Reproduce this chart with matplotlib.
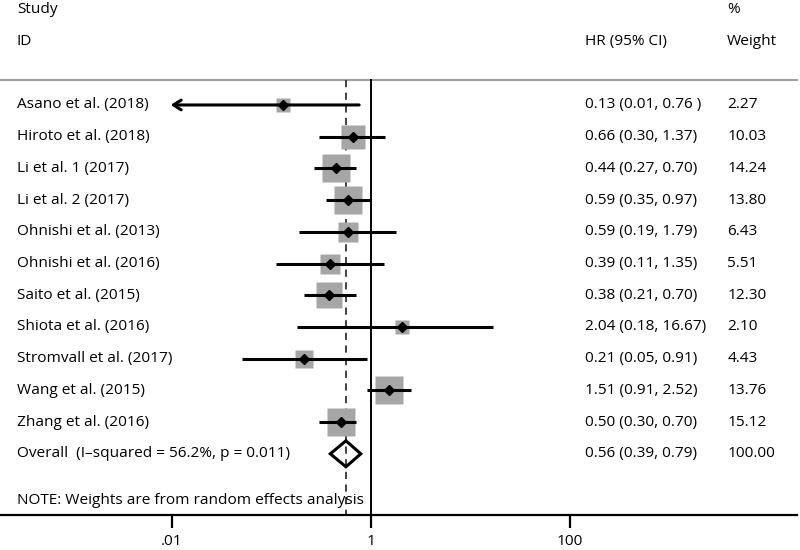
import numpy as np
import matplotlib.pyplot as plt
from matplotlib.transforms import blended_transform_factory
from matplotlib.ticker import NullLocator

studies = ["Asano et al. (2018)", "Hiroto et al. (2018)", "Li et al. 1 (2017)", "Li et al. 2 (2017)",
           "Ohnishi et al. (2013)", "Ohnishi et al. (2016)", "Saito et al. (2015)", "Shiota et al. (2016)",
           "Stromvall et al. (2017)", "Wang et al. (2015)", "Zhang et al. (2016)"]
hr = [0.13, 0.66, 0.44, 0.59, 0.59, 0.39, 0.38, 2.04, 0.21, 1.51, 0.50]
lo = [0.01, 0.30, 0.27, 0.35, 0.19, 0.11, 0.21, 0.18, 0.05, 0.91, 0.30]
hi = [0.76, 1.37, 0.70, 0.97, 1.79, 1.35, 0.70, 16.67, 0.91, 2.52, 0.70]
weight = [2.27, 10.03, 14.24, 13.80, 6.43, 5.51, 12.30, 2.10, 4.43, 13.76, 15.12]
hr_labels = ["0.13 (0.01, 0.76 )", "0.66 (0.30, 1.37)", "0.44 (0.27, 0.70)", "0.59 (0.35, 0.97)",
             "0.59 (0.19, 1.79)", "0.39 (0.11, 1.35)", "0.38 (0.21, 0.70)", "2.04 (0.18, 16.67)",
             "0.21 (0.05, 0.91)", "1.51 (0.91, 2.52)", "0.50 (0.30, 0.70)"]
overall = [0.56, 0.39, 0.79]
overall_label = "Overall  (I\u2013squared = 56.2%, p = 0.011)"
overall_text = "0.56 (0.39, 0.79)"
overall_weight = 100.00
xticks = [0.01, 1, 100]
xtick_labels = [".01", "1", "100"]

plt.rcParams['font.family'] = ['Open Sans', 'DejaVu Sans']
FS = 11.1

fig = plt.figure(figsize=(8, 5.5), dpi=100)
ax = fig.add_axes([0, 35 / 550, 1, 515 / 550])
ax.set_xscale('log')
x0, x1 = 10 ** -3.729, 10 ** 4.312
xend = 10 ** ((797 - 371) / 99.5)
ax.set_xlim(x0, x1)
ybot = 13.93
ax.set_ylim(ybot, -2.31)

for s in ['top', 'left', 'right']:
    ax.spines[s].set_visible(False)
ax.spines['bottom'].set_linewidth(1.6)
ax.spines['bottom'].set_bounds(x0, xend)
ax.set_yticks([])
ax.set_xticks(xticks)
ax.set_xticklabels(xtick_labels)
ax.xaxis.set_minor_locator(NullLocator())
ax.tick_params(axis='x', length=9, width=1.6, labelsize=FS, pad=5)

tr = blended_transform_factory(ax.transAxes, ax.transData)

# header
ax.text(0.021, -2.0, "Study", transform=tr, va='center', fontsize=FS)
ax.text(0.021, -0.99, "ID", transform=tr, va='center', fontsize=FS)
ax.text(0.731, -0.99, "HR (95% CI)", transform=tr, va='center', fontsize=FS)
ax.text(0.909, -2.0, "%", transform=tr, va='center', fontsize=FS)
ax.text(0.909, -0.99, "Weight", transform=tr, va='center', fontsize=FS)
ax.plot([x0, xend], [0.21, 0.21], color='#a0a0a0', lw=1.5)

# reference lines
ax.plot([1, 1], [0.21, ybot], color='k', lw=1.4, zorder=2)
ax.plot([overall[0]] * 2, [0.21, ybot], color='#333333', lw=1.3, dashes=(4, 3), zorder=2)

rows = np.arange(1, len(studies) + 1)
for i in range(len(studies)):
    r = rows[i]
    side = (4.5 + 6.3 * np.sqrt(weight[i])) * 0.72  # px -> pt
    ax.plot(hr[i], r, marker='s', ms=side, color='#a6a6a6', mec='none', zorder=3)
    if lo[i] <= 0.01:
        ax.annotate('', xy=(lo[i] * 0.97, r), xytext=(hi[i], r),
                    arrowprops=dict(arrowstyle='->,head_length=0.55,head_width=0.35', lw=2.2, color='k',
                                    shrinkA=0, shrinkB=0), zorder=4)
    else:
        ax.plot([lo[i], hi[i]], [r, r], color='k', lw=2.2, solid_capstyle='butt', zorder=4)
    ax.plot(hr[i], r, marker='D', ms=5.3, color='k', zorder=5)
    ax.text(0.021, r, studies[i], transform=tr, va='center', fontsize=FS)
    ax.text(0.731, r, hr_labels[i], transform=tr, va='center', fontsize=FS)
    ax.text(0.909, r, "%.2f" % weight[i], transform=tr, va='center', fontsize=FS)

ov = len(studies) + 1
ax.fill([overall[1], overall[0], overall[2], overall[0]], [ov, ov - 0.41, ov, ov + 0.41],
        facecolor='none', edgecolor='k', lw=2.2, zorder=4)
ax.text(0.021, ov, overall_label, transform=tr, va='center', fontsize=FS)
ax.text(0.731, ov, overall_text, transform=tr, va='center', fontsize=FS)
ax.text(0.909, ov, "%.2f" % overall_weight, transform=tr, va='center', fontsize=FS)

ax.text(0.021, 13.46, "NOTE: Weights are from random effects analysis", transform=tr, va='center', fontsize=FS)

fig.savefig("out.png", dpi=100)
